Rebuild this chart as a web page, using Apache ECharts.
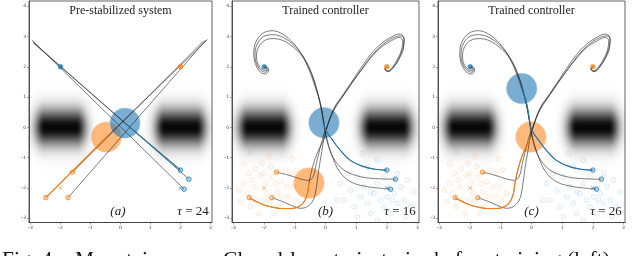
<!DOCTYPE html>
<html><head><meta charset="utf-8">
<script src="https://cdn.jsdelivr.net/npm/echarts@6/dist/echarts.min.js"></script>
<style>html,body{margin:0;padding:0;background:#fff}#c{width:640px;height:256px}</style>
</head><body><div id="c"></div>
<script>
// ---------------- data ----------------
const xTicks = [-3, -2, -1, 0, 1, 2, 3];
const yTicks = [-3, -2, -1, 0, 1, 2, 3, 4];
const panelTitles = ['Pre-stabilized system', 'Trained controller', 'Trained controller'];
const panelLabels = ['(a)', '(b)', '(c)'];
const panelTau = [24, 16, 26];

const obstacleX = [-2, 2];
const obstacleY = [0, 0];
const obstacleHalfLength = 0.52;
const obstacleSpreadX = 0.24;
const obstacleSpreadY = 0.42;
const agentRadius = 0.5;

const targetBlue = [-2, 2];
const targetOrange = [2, 2];
const meanStartBlue = [2, -2];
const meanStartOrange = [-2, -2];
const startsBlue = [[2.0, -1.41], [2.28, -1.71], [2.12, -2.04]];
const startsOrange = [[-1.6, -1.48], [-2.49, -2.32], [-1.75, -2.32]];

// panel (a): pre-stabilized trajectories (first one highlighted)
const preBlue = [
  [[2.0, -1.41], [0.15, 0.14], [-2.92, 2.8]],
  [[2.28, -1.71], [-2.9, 2.8]],
  [[2.12, -2.04], [-2.95, 2.88]]
];
const preOrange = [
  [[-2.49, -2.32], [-0.47, -0.32], [2.9, 2.9]],
  [[-1.6, -1.48], [2.78, 2.86]],
  [[-1.75, -2.32], [2.85, 2.88]]
];
const preCut = 1;

// panels (b),(c): trained controller trajectories (first one highlighted)
const trainedBlue = [
  [[2.0,-1.41],[1.6,-1.38],[1.2,-1.28],[0.8,-1.08],[0.45,-0.72],[0.2,-0.38],[0.0,-0.09],[-0.05,0.15],[-0.16,0.79],[-0.32,1.28],[-0.49,1.78],[-0.75,2.35],[-1.04,2.77],[-1.4,3.08],[-1.74,3.19],[-2.05,3.1],[-2.28,2.8],[-2.34,2.44],[-2.29,2.11],[-2.13,1.83],[-1.96,1.76],[-1.85,1.89],[-1.92,2.0],[-2,2]],
  [[2.28,-1.71],[1.8,-1.7],[1.15,-1.63],[0.6,-1.41],[0.25,-1.0],[0.06,-0.5],[-0.02,-0.1],[-0.1,0.4],[-0.22,1.0],[-0.42,1.7],[-0.7,2.3],[-1.0,2.68],[-1.35,2.95],[-1.72,3.06],[-2.05,2.98],[-2.25,2.7],[-2.3,2.4],[-2.25,2.1],[-2.1,1.88],[-1.95,1.82],[-1.88,1.92],[-2,2]],
  [[2.12,-2.04],[1.7,-2.0],[1.37,-1.96],[0.82,-1.8],[0.45,-1.45],[0.2,-0.9],[0.05,-0.4],[-0.02,-0.08],[-0.12,0.5],[-0.25,1.1],[-0.45,1.75],[-0.72,2.3],[-1.02,2.62],[-1.35,2.85],[-1.7,2.93],[-2.0,2.86],[-2.2,2.62],[-2.25,2.35],[-2.2,2.08],[-2.05,1.9],[-1.93,1.88],[-1.95,1.98],[-2,2]]
];
const trainedOrange = [
  [[-2.49,-2.32],[-2.13,-2.51],[-1.8,-2.62],[-1.4,-2.68],[-1.04,-2.67],[-0.75,-2.52],[-0.6,-2.22],[-0.54,-1.84],[-0.42,-1.3],[-0.27,-0.85],[-0.1,-0.5],[-0.02,-0.32],[0.03,-0.08],[0.27,0.62],[0.6,1.12],[0.82,1.45],[1.15,1.95],[1.47,2.4],[1.8,2.75],[2.13,2.97],[2.4,3.08],[2.55,2.98],[2.55,2.65],[2.42,2.3],[2.24,2.0],[2.05,1.84],[1.93,1.92],[2,2]],
  [[-1.6,-1.48],[-1.3,-1.55],[-1.04,-1.63],[-0.75,-1.72],[-0.55,-1.75],[-0.4,-1.62],[-0.3,-1.2],[-0.18,-0.7],[-0.06,-0.25],[0.02,-0.05],[0.25,0.55],[0.55,1.0],[0.85,1.45],[1.18,1.9],[1.5,2.32],[1.82,2.65],[2.15,2.86],[2.42,2.97],[2.52,2.85],[2.48,2.55],[2.35,2.25],[2.18,1.98],[2.02,1.86],[1.94,1.95],[2,2]],
  [[-1.75,-2.32],[-1.4,-2.45],[-1.1,-2.58],[-0.82,-2.67],[-0.6,-2.62],[-0.4,-2.4],[-0.3,-2.0],[-0.22,-1.4],[-0.12,-0.8],[-0.04,-0.3],[0.02,-0.06],[0.3,0.62],[0.6,1.08],[0.9,1.52],[1.2,1.95],[1.52,2.38],[1.85,2.72],[2.18,2.94],[2.45,3.02],[2.58,2.9],[2.52,2.6],[2.4,2.28],[2.22,2.0],[2.05,1.85],[1.95,1.93],[2,2]]
];
const trainedCutBlue = [7, 9];    // highlighted-point index at tau for (b),(c)
const trainedCutOrange = [7, 11];

// sampled initial conditions (faint markers)
const samplesOrange = [[-2.78,-2.46],[-2.67,-1.85],[-2.56,-2.18],[-2.51,-1.52],[-2.40,-1.74],[-2.34,-1.96],[-2.24,-2.40],[-2.13,-1.58],[-2.07,-1.19],[-2.02,-1.52],[-1.96,-1.80],[-1.91,-2.18],[-1.85,-2.40],[-1.80,-1.30],[-1.74,-1.63],[-1.64,-1.85],[-1.58,-2.13],[-1.47,-1.80],[-1.42,-2.29],[-1.31,-1.41],[-1.25,-1.96],[-1.20,-2.29],[-1.14,-1.52],[-1.04,-1.96],[-0.98,-2.40],[-0.93,-1.41],[-2.67,-1.19],[-2.45,-2.62],[-2.18,-2.84],[-1.69,-2.84],[-1.53,-2.62],[-2.29,-1.36],[-1.85,-0.97],[-0.82,-2.18],[-2.84,-2.07],[-2.45,-0.81],[-1.09,-1.03],[-2.02,-2.40]];
const samplesBlue = [[0.49,-1.85],[0.60,-2.40],[0.82,-2.07],[0.93,-2.62],[1.04,-1.63],[1.15,-2.29],[1.26,-1.96],[1.37,-2.51],[1.47,-2.84],[1.58,-2.18],[1.69,-1.85],[1.80,-2.40],[1.91,-2.62],[2.02,-2.29],[2.13,-2.84],[2.24,-2.18],[2.35,-2.51],[2.46,-1.96],[2.57,-2.40],[2.67,-1.74],[2.78,-2.62],[1.37,-1.30],[1.69,-1.08],[1.20,-0.86],[0.71,-1.52],[1.91,-1.63],[2.35,-1.52],[2.89,-2.13],[0.38,-2.40],[1.04,-2.95],[1.69,-3.06],[2.18,-2.40],[2.62,-2.95],[1.47,-2.13]];

const captionParts = ['Fig. 4:', 'Mountains', 'Closed-loop trajectories before training (left) and after training'];

// ---------------- layout / style ----------------
const BLUE = '#1f77b4', ORANGE = '#ff7f0e';
const gridBoxes = [{left: 29, width: 183}, {left: 232, width: 187}, {left: 438, width: 187}];
const gridTop = 1, gridHeight = 221.5;
const X_MIN = -3.05, X_MAX = 3.05, Y_MIN = -3.14, Y_MAX = 4.17;

// obstacle density image (computed from obstacle parameters)
const SPAN = 1.7, RES = 128;
const obsCanvas = document.createElement('canvas');
obsCanvas.width = RES; obsCanvas.height = RES;
(function () {
  const ctx = obsCanvas.getContext('2d');
  const img = ctx.createImageData(RES, RES);
  for (let j = 0; j < RES; j++) {
    for (let i = 0; i < RES; i++) {
      const dx0 = -SPAN + (i + 0.5) * (2 * SPAN / RES);
      const dy = SPAN - (j + 0.5) * (2 * SPAN / RES);
      const dx = Math.max(0, Math.abs(dx0) - obstacleHalfLength);
      const v = Math.exp(-0.5 * (dx / obstacleSpreadX) ** 2 - 0.5 * (dy / obstacleSpreadY) ** 2);
      const a = Math.min(1, v * 1.0);
      const k = (j * RES + i) * 4;
      img.data[k] = 6; img.data[k + 1] = 6; img.data[k + 2] = 6; img.data[k + 3] = Math.round(a * 255);
    }
  }
  ctx.putImageData(img, 0, 0);
})();

const xAxes = [], yAxes = [], grids = [], series = [], graphics = [];
const axisLabelStyle = {fontSize: 4.5, color: '#444', fontFamily: 'DejaVu Sans'};

for (let p = 0; p < 3; p++) {
  const g = gridBoxes[p];
  grids.push({left: g.left, top: gridTop, width: g.width, height: gridHeight, show: true,
    borderColor: '#3a3a3a', borderWidth: 0.8, backgroundColor: 'transparent', containLabel: false});
  xAxes.push({type: 'value', gridIndex: p, min: X_MIN, max: X_MAX,
    axisLine: {show: true, onZero: false, lineStyle: {color: '#3a3a3a', width: 0.8}},
    axisTick: {show: true, customValues: xTicks, length: 2, lineStyle: {color: '#555', width: 0.5}},
    axisLabel: Object.assign({customValues: xTicks, margin: 3}, axisLabelStyle),
    splitLine: {show: false}});
  yAxes.push({type: 'value', gridIndex: p, min: Y_MIN, max: Y_MAX,
    axisLine: {show: true, onZero: false, lineStyle: {color: '#3a3a3a', width: 0.8}},
    axisTick: {show: true, customValues: yTicks, length: 2, lineStyle: {color: '#555', width: 0.5}},
    axisLabel: Object.assign({customValues: yTicks, margin: 3}, axisLabelStyle),
    splitLine: {show: false}});

  const ax = {xAxisIndex: p, yAxisIndex: p};

  // obstacles
  series.push(Object.assign({
    type: 'custom', silent: true, clip: true, z: 1,
    data: obstacleX.map((x, i) => [x, obstacleY[i]]),
    renderItem: function (params, api) {
      const cx = api.value(0), cy = api.value(1);
      const p0 = api.coord([cx - SPAN, cy + SPAN]);
      const p1 = api.coord([cx + SPAN, cy - SPAN]);
      return {type: 'image', style: {image: obsCanvas, x: p0[0], y: p0[1], width: p1[0] - p0[0], height: p1[1] - p0[1]}};
    }
  }, ax));

  // faint sampled initial conditions
  if (p > 0) {
    [[samplesOrange, 'rgba(255,127,14,0.05)', 'rgba(255,127,14,0.22)'],
     [samplesBlue, 'rgba(31,119,180,0.05)', 'rgba(31,119,180,0.2)']].forEach(function (s) {
      series.push(Object.assign({type: 'scatter', silent: true, z: 2, symbol: 'circle', symbolSize: 5,
        data: s[0], itemStyle: {color: s[1], borderColor: s[2], borderWidth: 0.7}}, ax));
    });
  }

  // agent discs at tau
  const trajB = p === 0 ? preBlue : trainedBlue;
  const trajO = p === 0 ? preOrange : trainedOrange;
  const cutB = p === 0 ? preCut : trainedCutBlue[p - 1];
  const cutO = p === 0 ? preCut : trainedCutOrange[p - 1];
  [[trajO[0][cutO], 'rgba(255,127,14,0.55)', 'rgba(255,200,160,0.9)'],
   [trajB[0][cutB], 'rgba(31,119,180,0.6)', 'rgba(170,205,230,0.9)']].forEach(function (d) {
    series.push(Object.assign({
      type: 'custom', silent: true, clip: true, z: 3, data: [d[0]],
      renderItem: function (params, api) {
        const c = api.coord([api.value(0), api.value(1)]);
        const r = api.size([agentRadius, agentRadius]);
        return {type: 'circle', shape: {cx: c[0], cy: c[1], r: (r[0] + r[1]) / 2},
          style: {fill: d[1], stroke: d[2], lineWidth: 1, lineDash: [1.5, 1.2]}};
      }
    }, ax));
  });

  // all sample trajectories (black)
  const smooth = p === 0 ? false : 0.35;
  trajB.concat(trajO).forEach(function (t) {
    series.push(Object.assign({type: 'line', silent: true, z: 4, data: t, showSymbol: false, smooth: smooth,
      lineStyle: {color: '#262626', width: 0.75, opacity: 0.8}}, ax));
  });
  // highlighted portion up to tau
  [[trajB[0].slice(0, cutB + 1), BLUE], [trajO[0].slice(0, cutO + 1), ORANGE]].forEach(function (h) {
    series.push(Object.assign({type: 'line', silent: true, z: 5, data: h[0], showSymbol: false, smooth: smooth,
      lineStyle: {color: h[1], width: 1.1}}, ax));
  });

  // markers
  [[startsBlue, BLUE, 'rgba(31,119,180,0.3)'], [startsOrange, ORANGE, 'rgba(255,127,14,0.3)']].forEach(function (m) {
    series.push(Object.assign({type: 'scatter', silent: true, z: 6, symbol: 'circle', symbolSize: 4.5, data: m[0],
      itemStyle: {color: m[2], borderColor: m[1], borderWidth: 1}}, ax));
  });
  const xPath = 'path://M0,1L1,0L5,4L9,0L10,1L6,5L10,9L9,10L5,6L1,10L0,9L4,5Z';
  [[meanStartBlue, BLUE], [meanStartOrange, ORANGE]].forEach(function (m) {
    series.push(Object.assign({type: 'scatter', silent: true, z: 6, symbol: xPath, symbolSize: 4, data: [m[0]],
      itemStyle: {color: m[1]}}, ax));
  });
  [[targetBlue, BLUE], [targetOrange, ORANGE]].forEach(function (m) {
    series.push(Object.assign({type: 'scatter', silent: true, z: 6, symbol: 'circle', symbolSize: 4.5, data: [m[0]],
      itemStyle: {color: m[1], borderColor: m[1], borderWidth: 0.8}}, ax));
  });

  // texts
  const cx = g.left + g.width / 2;
  graphics.push({type: 'text', x: cx, y: 11, z: 10, silent: true,
    style: {text: panelTitles[p], font: '12px "Liberation Serif"', fill: '#222', textAlign: 'center', textVerticalAlign: 'middle'}});
  graphics.push({type: 'text', x: g.left + g.width * (p === 0 ? 0.486 : 0.5), y: 212, z: 10, silent: true,
    style: {text: panelLabels[p], font: 'italic 13px "Liberation Serif"', fill: '#222', textAlign: 'center', textVerticalAlign: 'middle'}});
  graphics.push({type: 'text', x: g.left + g.width - 19, y: 212, z: 10, silent: true,
    style: {text: '{i|τ} = ' + panelTau[p], font: '13px "Liberation Serif"', fill: '#222', textAlign: 'center', textVerticalAlign: 'middle',
      rich: {i: {fontStyle: 'italic', fontFamily: 'Liberation Serif', fontSize: 13, fill: '#222'}}}});
}

// caption (clipped by the bottom edge)
const capFont = '21.5px "Liberation Serif"';
[[captionParts[0], 2], [captionParts[1], 75], [captionParts[2], 223]].forEach(function (c) {
  graphics.push({type: 'text', x: c[1], y: 249, silent: true,
    style: {text: c[0], font: capFont, fill: '#111', textAlign: 'left', textVerticalAlign: 'top'}});
});

const chart = echarts.init(document.getElementById('c'), null, {renderer: 'canvas', width: 640, height: 256});
chart.setOption({
  animation: false,
  backgroundColor: '#fff',
  grid: grids, xAxis: xAxes, yAxis: yAxes, series: series, graphic: graphics
});
</script>
</body></html>
